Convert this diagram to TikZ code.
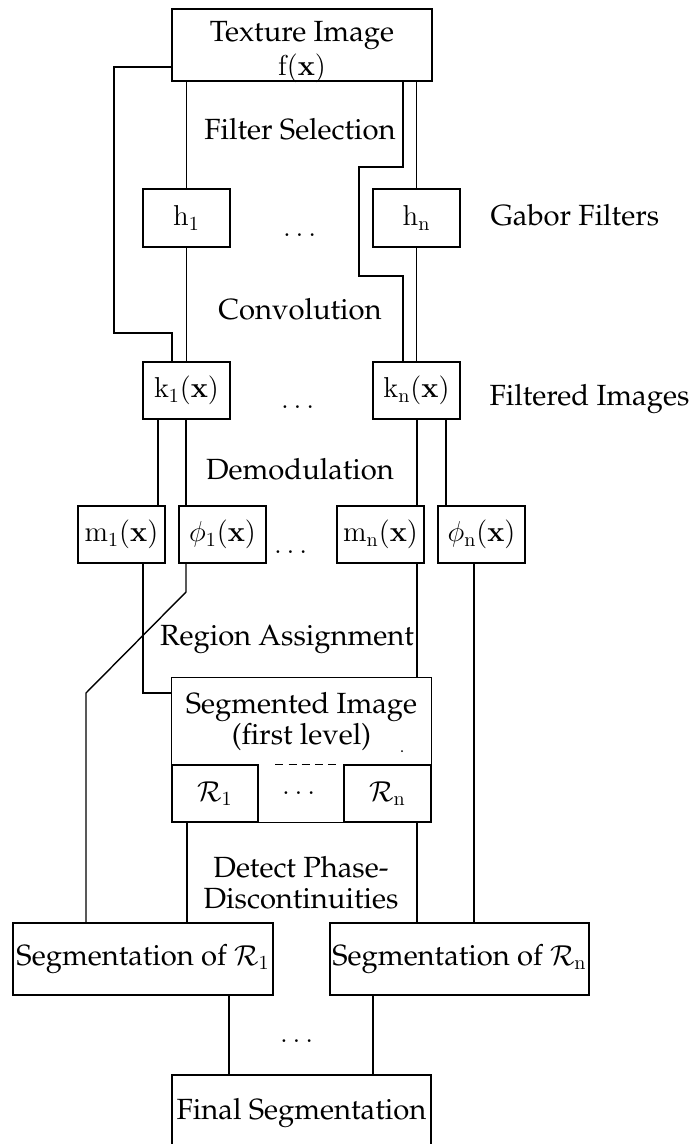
\documentclass[tikz,border=0pt]{standalone}
\usepackage[T1]{fontenc}
\usepackage{palatino}
\usepackage{amsmath}
\newcommand{\fs}{\fontsize{14.6}{15.5}\selectfont}
\newcommand{\bx}{\mathbf{x}}
\newcommand{\ur}[1]{\mathrm{#1}}
\tikzset{
  box/.style={draw, line width=0.7pt, inner sep=1pt, font=\fs},
  cell/.style={inner sep=1pt, font=\fs},
  lbl/.style={inner sep=0pt, font=\fs},
  conn/.style={line width=0.7pt},
}
\begin{document}
\begin{tikzpicture}[x=0.5pt, y=-0.5pt, line width=0.7pt]
\useasboundingbox (0,0) rectangle (690,1144);
% boxes
\node[box, minimum width=130pt, minimum height=36pt] (tex) at (302,45) {};
\node[lbl, align=center] (textxt) at (302,52) {Texture Image\\[1.5pt]$\ur{f}(\bx)$};
\node[box, minimum width=43.5pt, minimum height=29pt] (h1) at (186.5,218) {$\ur{h}_1$};
\node[box, minimum width=43.5pt, minimum height=29pt] (hn) at (416.5,218) {$\ur{h}_{\ur{n}}$};
\node[box, minimum width=43.5pt, minimum height=28.5pt] (k1) at (186.5,390.5) {$\ur{k}_1(\bx)$};
\node[box, minimum width=43.5pt, minimum height=28.5pt] (kn) at (416.5,390.5) {$\ur{k}_{\ur{n}}(\bx)$};
\node[box, minimum width=43.5pt, minimum height=28.5pt] (m1) at (121.5,534.5) {$\ur{m}_1(\bx)$};
\node[box, minimum width=43.5pt, minimum height=28.5pt] (p1) at (222.5,534.5) {$\phi_1(\bx)$};
\node[box, minimum width=43.5pt, minimum height=28.5pt] (mn) at (380.5,534.5) {$\ur{m}_{\ur{n}}(\bx)$};
\node[box, minimum width=43.5pt, minimum height=28.5pt] (pn) at (481.5,534.5) {$\phi_{\ur{n}}(\bx)$};
% segmented image
\node[cell, minimum width=129.5pt, minimum height=43.5pt, align=center] (segtop) at (301.5,721.5) {Segmented Image\\(first level)};
\draw (segtop.south west) -- (segtop.north west) -- (segtop.north east) -- (segtop.south east);
\node[box, minimum width=43pt, minimum height=28.5pt] (r1) at (215,793.5) {$\mathcal{R}_1$};
\node[cell, minimum width=43pt, minimum height=28.5pt] (rm) at (301,793.5) {$\dots$};
\node[box, minimum width=43.5pt, minimum height=28.5pt] (rn) at (387.5,793.5) {$\mathcal{R}_{\ur{n}}$};
\draw (rm.south west) -- (rm.south east);
\draw[dash pattern=on 4pt off 2.6pt] ([xshift=9pt]rm.north west) -- ([xshift=-3.5pt]rm.north east);
\fill (402,751) circle (0.5pt);
\node[box, minimum width=130pt, minimum height=36pt] (s1) at (143,959) {Segmentation of $\mathcal{R}_1$};
\node[box, minimum width=129.5pt, minimum height=36pt] (sn) at (459.5,959) {Segmentation of $\mathcal{R}_{\ur{n}}$};
\node[box, minimum width=129.5pt, minimum height=38pt] (fin) at (301.5,1113) {Final Segmentation};
% labels
\node[lbl, anchor=base] (fsel) at (300,140) {Filter Selection};
\node[lbl, anchor=base] (conv) at (300,320) {Convolution};
\node[lbl, anchor=base] (demod) at (300,479) {Demodulation};
\node[lbl, anchor=base] (regas) at (287,645) {Region Assignment};
\node[lbl, align=center] (detect) at (301,883) {Detect Phase-\\Discontinuities};
\node[lbl, anchor=base west] (gabor) at (490,226) {Gabor Filters};
\node[lbl, anchor=base west] (filt) at (489,405) {Filtered Images};
\node[lbl, anchor=base] (d1) at (302,237) {$\dots$};
\node[lbl, anchor=base] (d2) at (300,408) {$\dots$};
\node[lbl, anchor=base] (d3) at (293,553) {$\dots$};
\node[lbl, anchor=base] (d4) at (299,1042) {$\dots$};
% connectors
\draw[conn] (tex.west |- 0,67) -- (114,67) -- (114,333) -- (172,333) -- (k1.north -| 172,0);
\draw[conn] (tex.south -| h1.north) -- (h1.north);
\draw[conn] (h1) -- (k1);
\draw[conn] (tex.south -| hn.north) -- (hn.north);
\draw[conn] (hn) -- (kn);
\draw[conn] (tex.south -| 403,0) -- (403,167) -- (359,167) -- (359,276) -- (403,276) -- (kn.north -| 403,0);
\draw[conn] (k1.south -| 158,0) -- (m1.north -| 158,0);
\draw[conn] (k1.south -| 186,0) -- (p1.north -| 186,0);
\draw[conn] (kn.south -| 417,0) -- (mn.north -| 417,0);
\draw[conn] (kn.south -| 446,0) -- (pn.north -| 446,0);
\draw[conn] (m1.south -| 143,0) -- (143,693) -- (segtop.west |- 0,693);
\draw[conn] (p1.south -| 186,0) -- (186,592) -- (86,693) -- (s1.north -| 86,0);
\draw[conn] (mn.south -| 417,0) -- (segtop.north -| 417,0);
\draw[conn] (pn.south -| 474,0) -- (sn.north -| 474,0);
\draw[conn] (r1.south -| 187,0) -- (s1.north -| 187,0);
\draw[conn] (rn.south -| 417,0) -- (sn.north -| 417,0);
\draw[conn] (s1.south -| 229,0) -- (fin.north -| 229,0);
\draw[conn] (sn.south -| 373,0) -- (fin.north -| 373,0);
\end{tikzpicture}
\end{document}
